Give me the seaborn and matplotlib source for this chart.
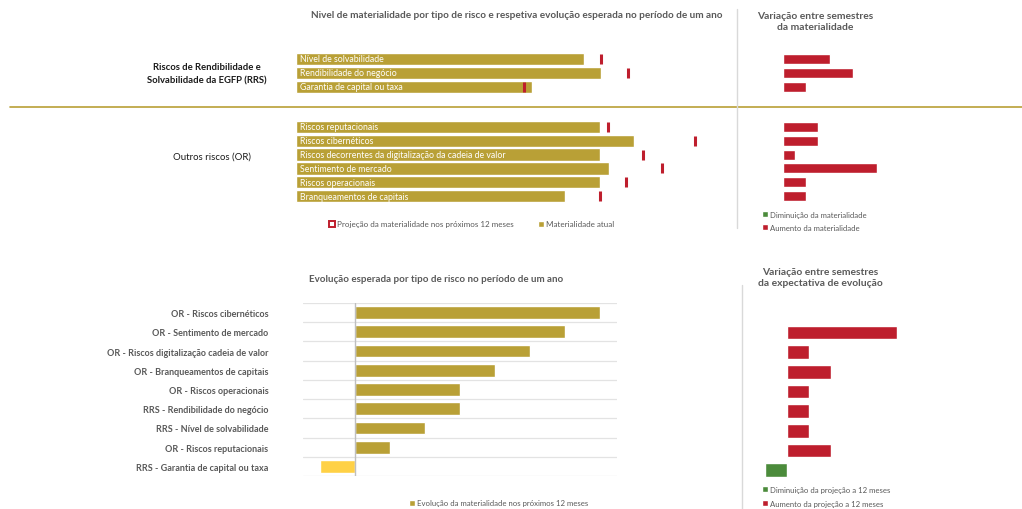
import numpy as np
import pandas as pd
import matplotlib
matplotlib.use("Agg")
import matplotlib.pyplot as plt
from matplotlib.patches import Patch
from matplotlib.lines import Line2D
import seaborn as sns

# ---- data ---------------------------------------------------------------
rrs_labels = ["Nível de solvabilidade", "Rendibilidade do negócio",
              "Garantia de capital ou taxa"]
rrs_current = [3.29, 3.49, 2.70]
rrs_projection = [3.49, 3.79, 2.60]
rrs_semester_change = [0.20, 0.30, 0.10]

or_labels = ["Riscos reputacionais", "Riscos cibernéticos",
             "Riscos decorrentes da digitalização da cadeia de valor",
             "Sentimento de mercado", "Riscos operacionais",
             "Branqueamentos de capitais"]
or_current = [3.47, 3.86, 3.47, 3.58, 3.47, 3.07]
or_projection = [3.57, 4.56, 3.97, 4.18, 3.77, 3.47]
or_semester_change = [0.15, 0.15, 0.05, 0.40, 0.10, 0.10]

evo_labels = ["OR - Riscos cibernéticos", "OR - Sentimento de mercado",
              "OR - Riscos digitalização cadeia de valor",
              "OR - Branqueamentos de capitais", "OR - Riscos operacionais",
              "RRS - Rendibilidade do negócio", "RRS - Nível de solvabilidade",
              "OR - Riscos reputacionais", "RRS - Garantia de capital ou taxa"]
evo_values = [0.7, 0.6, 0.5, 0.4, 0.3, 0.3, 0.2, 0.1, -0.1]
evo_semester_change = [0.0, 0.5, 0.1, 0.2, 0.1, 0.1, 0.1, 0.2, -0.1]

# ---- style --------------------------------------------------------------
sns.set_style("white")
plt.rcParams["font.family"] = ["Lato", "DejaVu Sans"]

GOLD = "#B9A036"
YELLOW = "#FFD146"
RED = "#BE1E2D"
GREEN = "#4B8B3B"
GREY_TXT = "#595959"
LIGHT = "#D9D9D9"

W, H = 1022, 510
fig = plt.figure(figsize=(W / 100, H / 100), dpi=100)


def px_axes(x0, y0, x1, y1):
    """Axes placed by pixel box (top-left origin)."""
    ax = fig.add_axes([x0 / W, 1 - y1 / H, (x1 - x0) / W, (y1 - y0) / H])
    return ax


def ftext(x, y, s, **kw):
    fig.text(x / W, 1 - y / H, s, **kw)


def clean(ax):
    ax.set_xticks([])
    ax.set_yticks([])
    ax.set_xlabel("")
    ax.set_ylabel("")
    for sp in ax.spines.values():
        sp.set_visible(False)
    ax.patch.set_alpha(0)


def materiality_panel(ax, labels, current, projection):
    n = len(labels)
    sns.barplot(x=current, y=labels, orient="h", color=GOLD, width=0.9,
                saturation=1, ax=ax)
    sns.scatterplot(x=projection, y=np.arange(n), marker="|", s=55,
                    color=RED, linewidth=2.2, ax=ax, zorder=5)
    for i, lab in enumerate(labels):
        ax.text(0.05, i, lab, color="white", fontsize=6.3, va="center",
                ha="left")
    ax.set_xlim(0, 5)
    ax.set_ylim(n - 0.5, -0.5)
    clean(ax)


def change_panel(ax, labels, values, xlim, width):
    n = len(labels)
    sign = ["neg" if v < 0 else "pos" for v in values]
    df = pd.DataFrame({"label": labels, "value": values, "sign": sign})
    sns.barplot(data=df, x="value", y="label", hue="sign",
                palette={"pos": RED, "neg": GREEN}, orient="h", width=width,
                saturation=1, dodge=False, legend=False, ax=ax)
    ax.set_xlim(*xlim)
    ax.set_ylim(n - 0.5, -0.5)
    clean(ax)


# ---- top-left: materiality levels ---------------------------------------
ax_rrs = px_axes(296, 53, 733.5, 95)
materiality_panel(ax_rrs, rrs_labels, rrs_current, rrs_projection)

ax_or = px_axes(296, 121, 733.5, 204)
materiality_panel(ax_or, or_labels, or_current, or_projection)

# ---- top-right: semester change of materiality ---------------------------
ax_rrs_c = px_axes(740, 53, 1020, 95)
change_panel(ax_rrs_c, rrs_labels, rrs_semester_change, (-0.184, 1.013), 0.72)

ax_or_c = px_axes(740, 121, 1020, 204)
change_panel(ax_or_c, or_labels, or_semester_change, (-0.184, 1.013), 0.72)

# ---- bottom-left: expected evolution ------------------------------------
ax_evo = px_axes(303, 304, 617, 477)
evo_sign = ["neg" if v < 0 else "pos" for v in evo_values]
evo_df = pd.DataFrame({"label": evo_labels, "value": evo_values,
                       "sign": evo_sign})
sns.barplot(data=evo_df, x="value", y="label", hue="sign",
            palette={"pos": GOLD, "neg": YELLOW}, orient="h", width=0.66,
            saturation=1, dodge=False, legend=False, ax=ax_evo)
ax_evo.set_xlim(-0.15, 0.75)
ax_evo.set_ylim(len(evo_labels) - 0.5, -0.5)
for b in np.arange(-0.5, len(evo_labels), 1.0):
    ax_evo.axhline(b, color="#E3E3E3", lw=0.9, zorder=0)
ax_evo.axvline(0, color="#BFBFBF", lw=1.0, zorder=3)
ax_evo.set_xticks([])
ax_evo.set_xlabel("")
ax_evo.set_ylabel("")
ax_evo.tick_params(axis="y", length=0, pad=25, labelsize=6.5,
                   labelcolor=GREY_TXT)
for t in ax_evo.get_yticklabels():
    t.set_fontweight("bold")
for sp in ax_evo.spines.values():
    sp.set_visible(False)

# ---- bottom-right: semester change of expected evolution -----------------
ax_evo_c = px_axes(745, 304, 1020, 481)
change_panel(ax_evo_c, evo_labels, evo_semester_change,
             (-42 / 220, 233 / 220), 0.71)

# ---- titles and group labels --------------------------------------------
ftext(517, 16, "Nivel de materialidade por tipo de risco e respetiva evolução "
      "esperada no período de um ano", ha="center", va="center",
      fontsize=7.2, fontweight="bold", color=GREY_TXT)
ftext(815, 22, "Variação entre semestres\nda materialidade", ha="center",
      va="center", fontsize=7.4, fontweight="bold", color=GREY_TXT,
      linespacing=1.3)
ftext(207, 74, "Riscos de Rendibilidade e\nSolvabilidade da EGFP (RRS)",
      ha="center", va="center", fontsize=6.8, fontweight="bold",
      color="#1A1A1A", linespacing=1.6)
ftext(212, 157, "Outros riscos (OR)", ha="center", va="center",
      fontsize=6.9, color="#1A1A1A")
ftext(436, 280, "Evolução esperada por tipo de risco no período de um ano",
      ha="center", va="center", fontsize=7.0, fontweight="bold",
      color=GREY_TXT)
ftext(820, 278, "Variação entre semestres\nda expectativa de evolução",
      ha="center", va="center", fontsize=7.4, fontweight="bold",
      color=GREY_TXT, linespacing=1.3)

# ---- separators ---------------------------------------------------------
fig.add_artist(Line2D([10 / W, 1.0], [1 - 108 / H] * 2, color="#B9A036",
                      lw=1.2))
fig.add_artist(Line2D([737 / W] * 2, [1 - 10 / H, 1 - 229 / H], color=LIGHT,
                      lw=1.0))
fig.add_artist(Line2D([742 / W] * 2, [1 - 286 / H, 0.0], color=LIGHT,
                      lw=1.0))

# ---- legends ------------------------------------------------------------
leg_kw = dict(frameon=False, fontsize=5.6, handlelength=0.75,
              handleheight=0.75, handletextpad=0.25, labelcolor=GREY_TXT,
              borderaxespad=0, borderpad=0)
fig.legend([Patch(facecolor="white", edgecolor=RED, lw=1.4),
            Patch(facecolor=GOLD)],
           ["Projeção da materialidade nos próximos 12 meses",
            "Materialidade atual"],
           loc="center left", bbox_to_anchor=(329 / W, 1 - 225 / H),
           ncol=2, columnspacing=3.0,
           **{**leg_kw, "fontsize": 5.75})
fig.legend([Patch(facecolor=GREEN), Patch(facecolor=RED)],
           ["Diminuição da materialidade", "Aumento da materialidade"],
           loc="upper left", bbox_to_anchor=(762 / W, 1 - 212 / H),
           labelspacing=0.75, **leg_kw)
fig.legend([Patch(facecolor=GOLD)],
           ["Evolução da materialidade nos próximos 12 meses"],
           loc="center left", bbox_to_anchor=(409 / W, 1 - 504 / H),
           **leg_kw)
fig.legend([Patch(facecolor=GREEN), Patch(facecolor=RED)],
           ["Diminuição da projeção a 12 meses",
            "Aumento da projeção a 12 meses"],
           loc="upper left", bbox_to_anchor=(762 / W, 1 - 487 / H),
           labelspacing=0.9, **leg_kw)

fig.savefig("out.png", dpi=100)
